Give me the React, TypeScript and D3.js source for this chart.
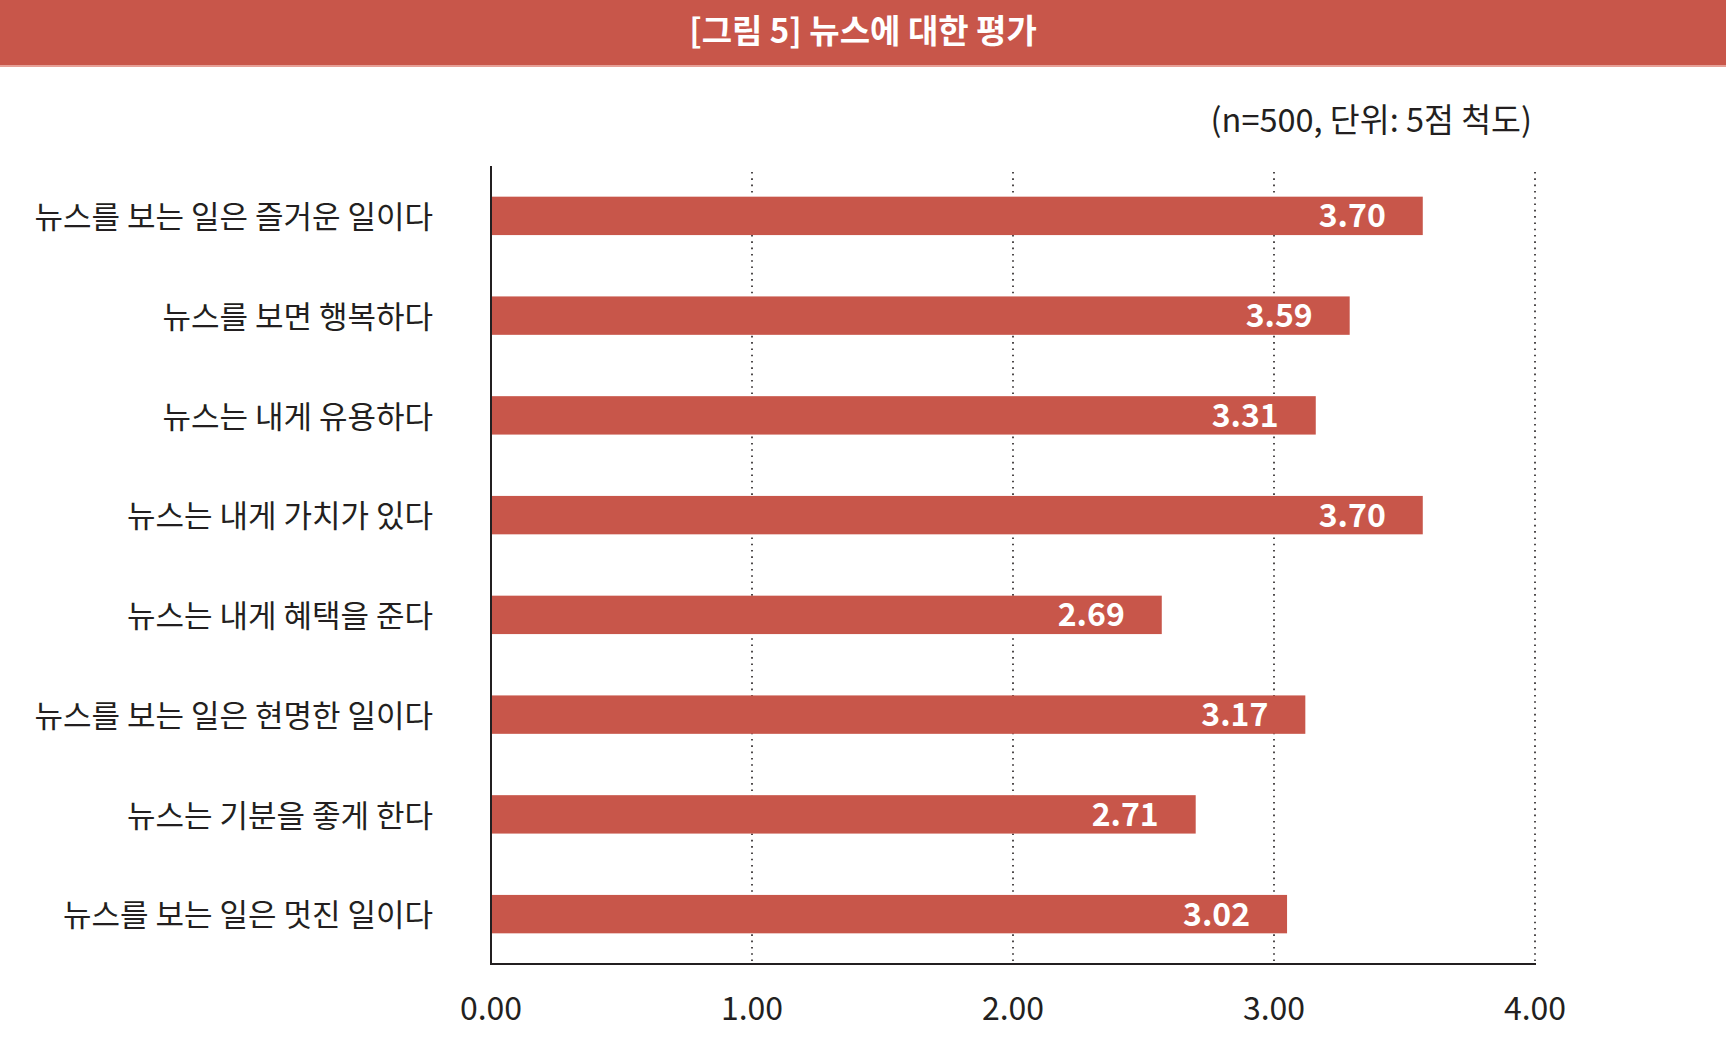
import { useEffect, useRef } from "react"
import * as d3 from "d3"

const WIDTH = 1726
const HEIGHT = 1048
const RED = "#c8564a"
const INK = "#231f20"
const FONT = "'Noto Sans CJK KR', 'Noto Sans', sans-serif"

const TITLE = "[그림 5] 뉴스에 대한 평가"
const NOTE = "(n=500, 단위: 5점 척도)"

const categories = [
  "뉴스를 보는 일은 즐거운 일이다",
  "뉴스를 보면 행복하다",
  "뉴스는 내게 유용하다",
  "뉴스는 내게 가치가 있다",
  "뉴스는 내게 혜택을 준다",
  "뉴스를 보는 일은 현명한 일이다",
  "뉴스는 기분을 좋게 한다",
  "뉴스를 보는 일은 멋진 일이다",
]

// bar lengths as drawn in the source (they do not match the printed labels)
const barValues = [3.57, 3.29, 3.16, 3.57, 2.57, 3.12, 2.7, 3.05]
const valueLabels = ["3.70", "3.59", "3.31", "3.70", "2.69", "3.17", "2.71", "3.02"]
const xTicks = [0, 1, 2, 3, 4]

export default function App() {
  const svgRef = useRef<SVGSVGElement>(null)

  useEffect(() => {
    document.body.style.margin = "0"
    if (!svgRef.current) return
    const svg = d3.select(svgRef.current)
    svg.selectAll("*").remove()

    const left = 491
    const right = 1535
    const top = 166
    const bottom = 964

    const x = d3.scaleLinear().domain([0, 4]).range([left, right])
    const y = d3.scaleBand<string>().domain(categories).range([top, bottom]).paddingInner(0.615).paddingOuter(0.3075)

    // header band
    svg.append("rect").attr("x", 0).attr("y", 0).attr("width", WIDTH).attr("height", 65).attr("fill", RED)
    svg.append("rect").attr("x", 0).attr("y", 65).attr("width", WIDTH).attr("height", 2).attr("fill", "#e6a097")
    svg.append("text")
      .attr("x", WIDTH / 2)
      .attr("y", 43)
      .attr("text-anchor", "middle")
      .attr("font-family", FONT)
      .attr("font-weight", 700)
      .attr("font-size", "33px")
      .attr("fill", "#fff")
      .text(TITLE)

    svg.append("text")
      .attr("x", 1532)
      .attr("y", 132)
      .attr("text-anchor", "end")
      .attr("font-family", FONT)
      .attr("font-size", "32.5px")
      .attr("fill", INK)
      .text(NOTE)

    // dotted grid
    svg.append("g")
      .selectAll("line")
      .data(xTicks.filter((t) => t > 0))
      .join("line")
      .attr("x1", (d) => x(d))
      .attr("x2", (d) => x(d))
      .attr("y1", top + 6)
      .attr("y2", bottom)
      .attr("stroke", INK)
      .attr("stroke-width", 1.6)
      .attr("stroke-dasharray", "1.6 4.7")

    // bars
    svg.append("g")
      .selectAll("rect")
      .data(categories)
      .join("rect")
      .attr("x", x(0))
      .attr("y", (d) => y(d)!)
      .attr("width", (_, i) => x(barValues[i]) - x(0))
      .attr("height", y.bandwidth())
      .attr("fill", RED)

    // value labels
    svg.append("g")
      .selectAll("text")
      .data(categories)
      .join("text")
      .attr("x", (_, i) => x(barValues[i]) - 37)
      .attr("y", (d) => y(d)! + y.bandwidth() / 2)
      .attr("dy", "0.36em")
      .attr("text-anchor", "end")
      .attr("font-family", FONT)
      .attr("font-weight", 700)
      .attr("font-size", "32px")
      .attr("fill", "#fff")
      .text((_, i) => valueLabels[i])

    // category labels
    svg.append("g")
      .selectAll("text")
      .data(categories)
      .join("text")
      .attr("x", 433)
      .attr("y", (d) => y(d)! + y.bandwidth() / 2 + 1)
      .attr("dy", "0.36em")
      .attr("text-anchor", "end")
      .attr("font-family", FONT)
      .attr("font-size", "31px")
      .attr("fill", INK)
      .text((d) => d)

    // axes
    svg.append("line").attr("x1", left).attr("x2", left).attr("y1", top).attr("y2", bottom + 1)
      .attr("stroke", INK).attr("stroke-width", 2)
    svg.append("line").attr("x1", left).attr("x2", right + 1).attr("y1", bottom).attr("y2", bottom)
      .attr("stroke", INK).attr("stroke-width", 2.2)

    svg.append("g")
      .selectAll("text")
      .data(xTicks)
      .join("text")
      .attr("x", (d) => x(d))
      .attr("y", 1008)
      .attr("dy", "0.36em")
      .attr("text-anchor", "middle")
      .attr("font-family", FONT)
      .attr("font-size", "32px")
      .attr("fill", INK)
      .text((d) => d3.format(".2f")(d))
  }, [])

  return (
    <svg ref={svgRef} width={WIDTH} height={HEIGHT} style={{ display: "block", background: "#fff" }} />
  )
}
